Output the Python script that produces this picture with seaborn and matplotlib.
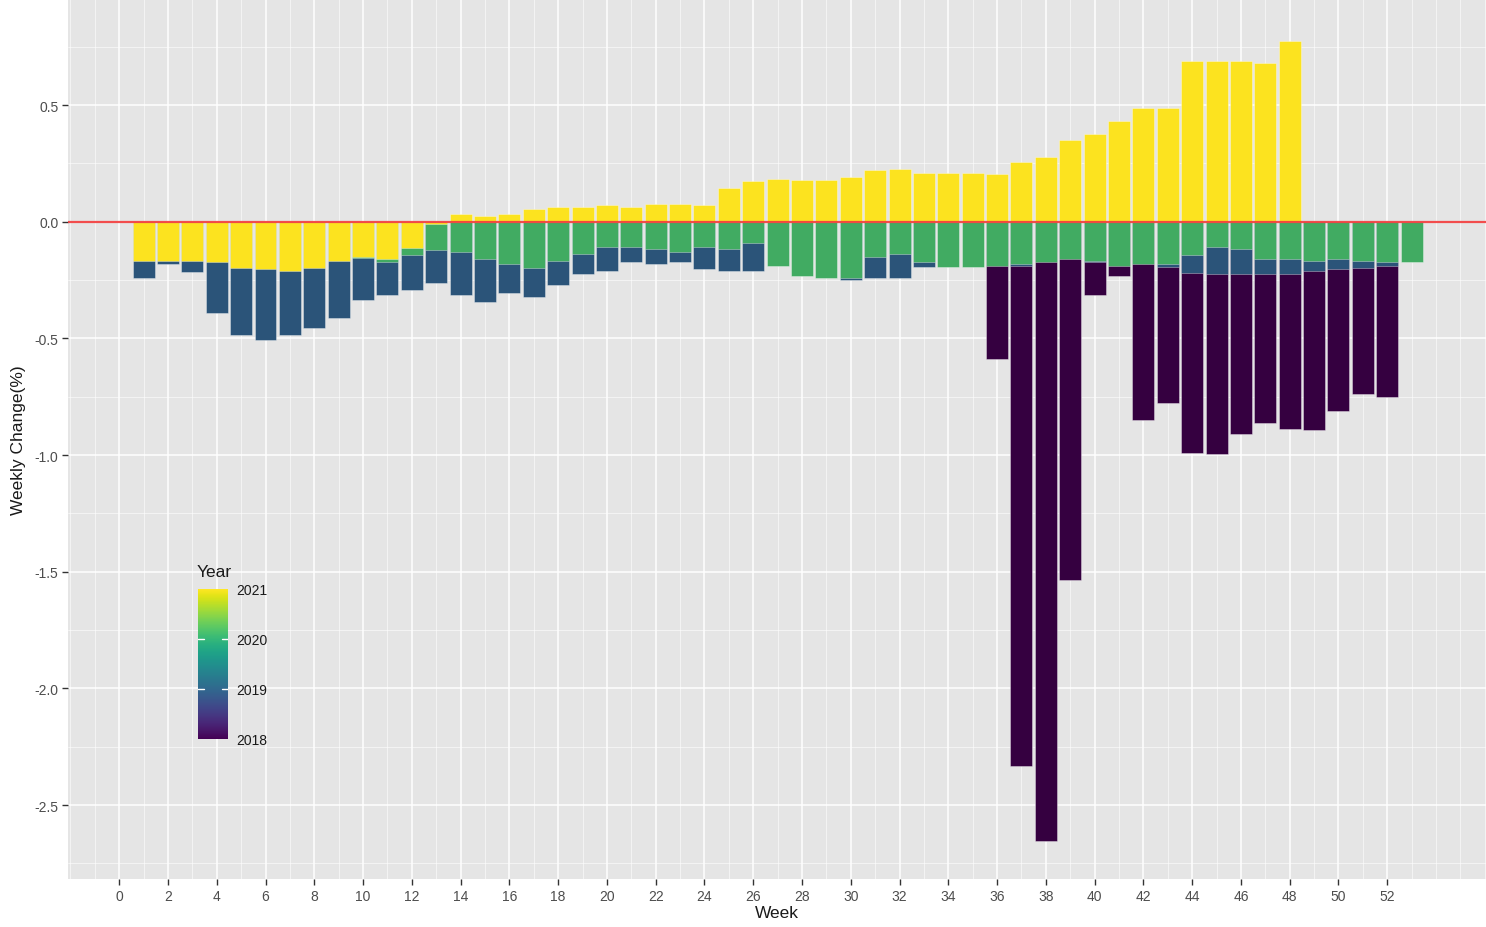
import numpy as np
import pandas as pd
import matplotlib
matplotlib.use("Agg")
import matplotlib.pyplot as plt
import matplotlib as mpl
from matplotlib.ticker import MultipleLocator
import seaborn as sns

# ======================
# Data: weekly change (%) per year, one value per week (stack segments)
# ======================
weeks = list(range(1, 54))

chg_2021 = [-0.167, -0.167, -0.167, -0.174, -0.197, -0.203, -0.211, -0.197, -0.167, -0.151,
            -0.160, -0.114, -0.010, 0.034, 0.026, 0.034, 0.054, 0.063, 0.063, 0.070,
            0.063, 0.078, 0.078, 0.070, 0.145, 0.174, 0.182, 0.181, 0.181, 0.190,
            0.220, 0.225, 0.211, 0.211, 0.211, 0.204, 0.257, 0.278, 0.351, 0.377,
            0.434, 0.487, 0.487, 0.688, 0.688, 0.688, 0.679, 0.776, 0.0, 0.0,
            0.0, 0.0, 0.0]

chg_2020 = [0.0, 0.0, 0.0, 0.0, 0.0, 0.0, 0.0, 0.0, 0.0, -0.006,
            -0.012, -0.030, -0.113, -0.128, -0.160, -0.183, -0.197, -0.167, -0.137, -0.108,
            -0.108, -0.116, -0.130, -0.108, -0.116, -0.091, -0.188, -0.233, -0.240, -0.240,
            -0.151, -0.137, -0.174, -0.195, -0.195, -0.188, -0.181, -0.172, -0.158, -0.167,
            -0.188, -0.180, -0.180, -0.144, -0.108, -0.116, -0.160, -0.160, -0.167, -0.160,
            -0.167, -0.174, -0.172]

chg_2019 = [-0.073, -0.013, -0.050, -0.216, -0.288, -0.303, -0.274, -0.258, -0.244, -0.180,
            -0.142, -0.147, -0.138, -0.184, -0.184, -0.122, -0.124, -0.104, -0.088, -0.102,
            -0.064, -0.065, -0.042, -0.095, -0.094, -0.119, 0.0, 0.0, 0.0, -0.008,
            -0.089, -0.103, -0.021, 0.0, 0.0, 0.0, -0.007, 0.0, 0.0, -0.004,
            0.0, 0.0, -0.015, -0.074, -0.117, -0.109, -0.065, -0.065, -0.044, -0.044,
            -0.030, -0.014, 0.0]

chg_2018 = [0.0] * 35 + [-0.401, -2.144, -2.480, -1.379, -0.143, -0.045, -0.669, -0.580, -0.772, -0.772,
                         -0.684, -0.638, -0.661, -0.682, -0.608, -0.540, -0.564, 0.0]

years = [2018, 2019, 2020, 2021]
year_colors = {2018: "#350040", 2019: "#2b5479", 2020: "#41ab62", 2021: "#fce31f"}

# ======================
# Build stacked extents (negative parts stack away from zero: 2021, 2020, 2019, 2018)
# ======================
df = pd.DataFrame({"week": weeks, "y2021": chg_2021, "y2020": chg_2020,
                   "y2019": chg_2019, "y2018": chg_2018})
df["c2021"] = df["y2021"].clip(upper=0)
df["c2020"] = df["c2021"] + df["y2020"]
df["c2019"] = df["c2020"] + df["y2019"]
df["c2018"] = df["c2019"] + df["y2018"]

layers = [
    (2018, df.loc[df["y2018"] != 0, ["week", "c2018"]].rename(columns={"c2018": "val"})),
    (2019, df.loc[df["y2019"] != 0, ["week", "c2019"]].rename(columns={"c2019": "val"})),
    (2020, df.loc[df["y2020"] != 0, ["week", "c2020"]].rename(columns={"c2020": "val"})),
    (2021, df.loc[df["y2021"] != 0, ["week", "y2021"]].rename(columns={"y2021": "val"})),
]

# ======================
# Plot
# ======================
sns.set_theme(style="darkgrid", rc={
    "axes.facecolor": "#e5e5e5",
    "grid.color": "white",
    "axes.edgecolor": "none",
})
plt.rcParams["font.family"] = ["Liberation Sans", "DejaVu Sans"]

W, H = 1486, 928
fig = plt.figure(figsize=(W / 100, H / 100), dpi=100)
ax = fig.add_axes([68 / W, (H - 880) / H, (W - 68) / W, 880 / H])

for yr, d in layers:
    sns.barplot(data=d, x="week", y="val", native_scale=True, width=0.9,
                color=year_colors[yr], saturation=1, errorbar=None,
                edgecolor=(1, 1, 1, 0.35), linewidth=0.7, ax=ax, zorder=2)

ax.axhline(0, color="#f23a3a", lw=1.6, alpha=0.9, zorder=5)

ax.set_xlim(-2.1, 56.05)
ax.set_ylim(-2.817, 0.955)
ax.set_xticks(range(0, 53, 2))
ax.xaxis.set_minor_locator(MultipleLocator(1))
ax.set_yticks([0.5, 0.0, -0.5, -1.0, -1.5, -2.0, -2.5])
ax.set_yticklabels(["0.5", "0.0", "-0.5", "-1.0", "-1.5", "-2.0", "-2.5"])
ax.yaxis.set_minor_locator(MultipleLocator(0.25))

ax.grid(which="major", color="white", lw=1.1, zorder=0)
ax.grid(which="minor", color="white", lw=0.5, alpha=0.8, zorder=0)
ax.set_axisbelow(True)
for s in ax.spines.values():
    s.set_visible(False)

ax.tick_params(which="major", axis="both", length=4, width=1, color="#333333",
               labelsize=10, labelcolor="#4d4d4d", pad=3, bottom=True, left=True)
ax.tick_params(which="minor", length=0)

ax.set_xlabel("Week", fontsize=12.5, color="#1a1a1a", labelpad=2)
ax.set_ylabel("Weekly Change(%)", fontsize=12.5, color="#1a1a1a", labelpad=6)

# Colour bar legend inside the panel
cax = fig.add_axes([198 / W, (H - 740) / H, 30 / W, 150 / H])
cb = mpl.colorbar.ColorbarBase(cax, cmap=mpl.cm.viridis,
                               norm=mpl.colors.Normalize(2018, 2021),
                               orientation="vertical")
cb.set_ticks([2018, 2019, 2020, 2021])
cb.set_ticklabels(["2018", "2019", "2020", "2021"])
cb.outline.set_visible(False)
cax.tick_params(length=0, labelsize=10, labelcolor="#1a1a1a", pad=6)
for t in [2019, 2020]:
    cax.plot([0, 0.2], [t, t], color="white", lw=1, transform=cax.get_yaxis_transform())
    cax.plot([0.8, 1.0], [t, t], color="white", lw=1, transform=cax.get_yaxis_transform())
fig.text(197 / W, 1 - 573 / H, "Year", fontsize=12.5, color="#1a1a1a",
         ha="left", va="center")

plt.savefig("out.png", dpi=100)
